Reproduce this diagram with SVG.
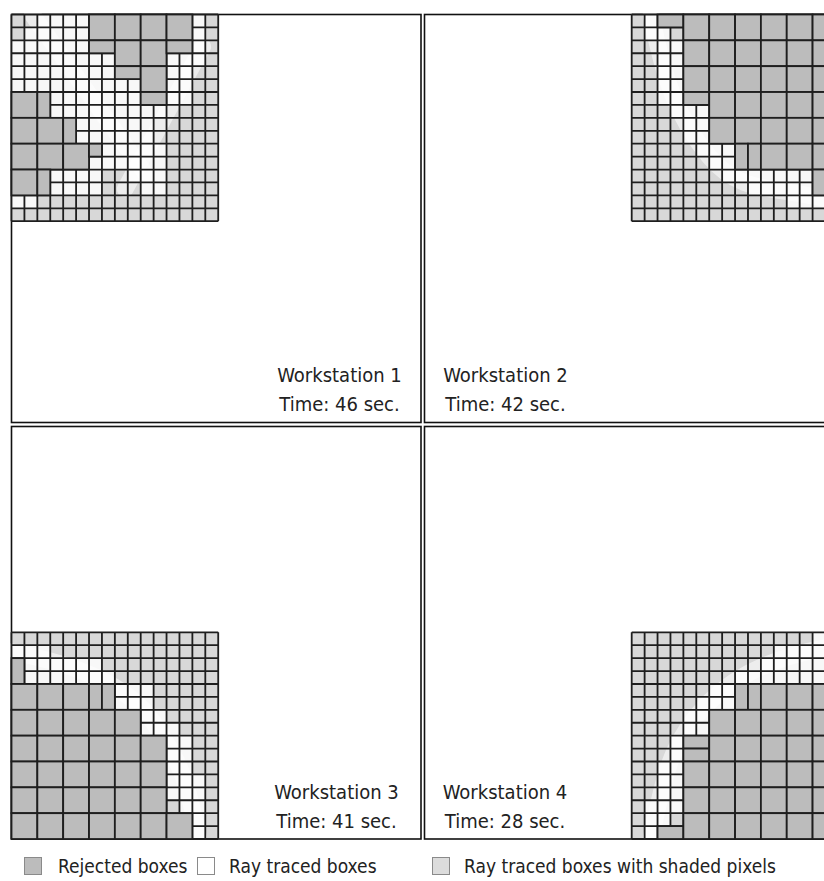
<svg xmlns="http://www.w3.org/2000/svg" xmlns:xlink="http://www.w3.org/1999/xlink" width="824" height="881" viewBox="0 0 824 881">
<style>
.base{fill:#d8d8d8}
.w{fill:#f8f8f8}
.g{fill:#bcbcbc;stroke:#1e1e1e;stroke-width:.14}
.ln{fill:none;stroke:#1e1e1e;stroke-width:.14}
.band{fill:none;stroke:#ffffff;stroke-opacity:.55;stroke-width:1.3;stroke-linecap:round}
.frame{fill:none;stroke:#111;stroke-width:1.6}
.lbl{font-family:"DejaVu Sans Condensed","DejaVu Sans",sans-serif;font-stretch:condensed;font-size:20px;fill:#222;text-anchor:middle}
.leg{font-family:"DejaVu Sans Condensed","DejaVu Sans",sans-serif;font-stretch:condensed;font-size:19px;fill:#222}
.sq{stroke:#8a8a8a;stroke-width:1}
</style>
<defs>
<path id="gl" class="ln" d="M0 0H16M0 1H16M0 2H16M0 3H16M0 4H16M0 5H16M0 6H16M0 7H16M0 8H16M0 9H16M0 10H16M0 11H16M0 12H16M0 13H16M0 14H16M0 15H16M0 16H16M0 0V16M1 0V16M2 0V16M3 0V16M4 0V16M5 0V16M6 0V16M7 0V16M8 0V16M9 0V16M10 0V16M11 0V16M12 0V16M13 0V16M14 0V16M15 0V16M16 0V16"/>
</defs>

<g id="panels">
<rect class="frame" x="11.5" y="14.5" width="409.5" height="408"/>
<rect class="frame" x="424.5" y="14.5" width="420" height="408"/>
<rect class="frame" x="11.5" y="426.5" width="409.5" height="412.5"/>
<rect class="frame" x="424.5" y="426.5" width="420" height="412.5"/>
</g>

<g id="grid1" transform="translate(11.5,14.5) scale(12.92)">
<rect class="base" width="16" height="16"/>
<rect class="w" x="2" y="0" width="4" height="1"/><rect class="w" x="14" y="0" width="1" height="3"/>
<rect class="w" x="1" y="1" width="5" height="1"/>
<rect class="w" x="0" y="2" width="6" height="1"/>
<rect class="w" x="0" y="3" width="8" height="2"/><rect class="w" x="12" y="3" width="3" height="1"/>
<rect class="w" x="12" y="4" width="2" height="3"/>
<rect class="w" x="0" y="5" width="10" height="1"/>
<rect class="w" x="3" y="6" width="7" height="1"/>
<rect class="w" x="3" y="7" width="9" height="1"/>
<rect class="w" x="5" y="8" width="6" height="2"/>
<rect class="w" x="7" y="10" width="5" height="1"/>
<rect class="w" x="6" y="11" width="6" height="1"/>
<rect class="w" x="3" y="12" width="4" height="2"/><rect class="w" x="9" y="12" width="3" height="1"/>
<rect class="w" x="10" y="13" width="2" height="1"/>
<rect class="w" x="0" y="14" width="2" height="1"/>
<path class="band" d="M1.6 0 L10.5 12.5"/>
<path class="band" d="M14.8 2.5 L8.8 13.5"/>
<use xlink:href="#gl" href="#gl"/>
<rect class="g" x="6" y="0" width="2" height="2"/><rect class="g" x="8" y="0" width="2" height="2"/>
<rect class="g" x="10" y="0" width="2" height="2"/><rect class="g" x="12" y="0" width="2" height="2"/>
<rect class="g" x="6" y="2" width="2" height="1"/><rect class="g" x="8" y="2" width="2" height="2"/>
<rect class="g" x="10" y="2" width="2" height="2"/><rect class="g" x="12" y="2" width="2" height="1"/>
<rect class="g" x="8" y="4" width="2" height="1"/><rect class="g" x="10" y="4" width="2" height="2"/>
<rect class="g" x="10" y="6" width="2" height="1"/>
<rect class="g" x="0" y="6" width="2" height="2"/><rect class="g" x="2" y="6" width="1" height="2"/>
<rect class="g" x="0" y="8" width="2" height="2"/><rect class="g" x="2" y="8" width="2" height="2"/><rect class="g" x="4" y="8" width="1" height="2"/>
<rect class="g" x="0" y="10" width="2" height="2"/><rect class="g" x="2" y="10" width="2" height="2"/><rect class="g" x="4" y="10" width="2" height="2"/><rect class="g" x="6" y="10" width="1" height="1"/>
<rect class="g" x="0" y="12" width="2" height="2"/><rect class="g" x="2" y="12" width="1" height="2"/>
</g>

<g id="grid2" transform="translate(631.7,14.5) scale(12.92)">
<rect class="base" width="16" height="16"/>
<rect class="w" x="1" y="0" width="1" height="1"/>
<rect class="w" x="1" y="1" width="2" height="1"/>
<rect class="w" x="2" y="2" width="2" height="5"/>
<rect class="w" x="3" y="7" width="3" height="1"/>
<rect class="w" x="4" y="8" width="2" height="2"/>
<rect class="w" x="5" y="10" width="3" height="1"/>
<rect class="w" x="6" y="11" width="2" height="1"/>
<rect class="w" x="7" y="12" width="7" height="1"/>
<rect class="w" x="9" y="13" width="5" height="1"/>
<rect class="w" x="12" y="14" width="3" height="1"/>
<path class="band" d="M1.5 0 C2.5 5 3.5 8 6 11 S11 13.2 16 14.5"/>
<use xlink:href="#gl" href="#gl"/>
<rect class="g" x="2" y="0" width="2" height="1"/>
<rect class="g" x="4" y="0" width="2" height="2"/><rect class="g" x="6" y="0" width="2" height="2"/><rect class="g" x="8" y="0" width="2" height="2"/><rect class="g" x="10" y="0" width="2" height="2"/><rect class="g" x="12" y="0" width="2" height="2"/><rect class="g" x="14" y="0" width="2" height="2"/>
<rect class="g" x="4" y="2" width="2" height="2"/><rect class="g" x="6" y="2" width="2" height="2"/><rect class="g" x="8" y="2" width="2" height="2"/><rect class="g" x="10" y="2" width="2" height="2"/><rect class="g" x="12" y="2" width="2" height="2"/><rect class="g" x="14" y="2" width="2" height="2"/>
<rect class="g" x="4" y="4" width="2" height="2"/><rect class="g" x="6" y="4" width="2" height="2"/><rect class="g" x="8" y="4" width="2" height="2"/><rect class="g" x="10" y="4" width="2" height="2"/><rect class="g" x="12" y="4" width="2" height="2"/><rect class="g" x="14" y="4" width="2" height="2"/>
<rect class="g" x="4" y="6" width="2" height="1"/>
<rect class="g" x="6" y="6" width="2" height="2"/><rect class="g" x="8" y="6" width="2" height="2"/><rect class="g" x="10" y="6" width="2" height="2"/><rect class="g" x="12" y="6" width="2" height="2"/><rect class="g" x="14" y="6" width="2" height="2"/>
<rect class="g" x="6" y="8" width="2" height="2"/><rect class="g" x="8" y="8" width="2" height="2"/><rect class="g" x="10" y="8" width="2" height="2"/><rect class="g" x="12" y="8" width="2" height="2"/><rect class="g" x="14" y="8" width="2" height="2"/>
<rect class="g" x="8" y="10" width="1" height="2"/><rect class="g" x="9" y="10" width="1" height="2"/><rect class="g" x="10" y="10" width="2" height="2"/><rect class="g" x="12" y="10" width="2" height="2"/><rect class="g" x="14" y="10" width="2" height="2"/>
<rect class="g" x="14" y="12" width="2" height="2"/>
</g>

<g id="grid3" transform="translate(11.5,632.3) scale(12.92)">
<rect class="base" width="16" height="16"/>
<rect class="w" x="0" y="1" width="3" height="1"/>
<rect class="w" x="1" y="2" width="6" height="1"/>
<rect class="w" x="1" y="3" width="7" height="1"/>
<rect class="w" x="8" y="4" width="3" height="2"/>
<rect class="w" x="10" y="6" width="2" height="1"/>
<rect class="w" x="10" y="7" width="3" height="1"/>
<rect class="w" x="12" y="8" width="2" height="3"/>
<rect class="w" x="12" y="11" width="3" height="2"/>
<rect class="w" x="13" y="13" width="2" height="1"/>
<rect class="w" x="14" y="14" width="1" height="2"/>
<path class="band" d="M0 1.5 C5 2.5 9 4 11 7 S13.5 11 14.5 16"/>
<use xlink:href="#gl" href="#gl"/>
<rect class="g" x="0" y="2" width="1" height="2"/>
<rect class="g" x="0" y="4" width="2" height="2"/><rect class="g" x="2" y="4" width="2" height="2"/><rect class="g" x="4" y="4" width="2" height="2"/><rect class="g" x="6" y="4" width="1" height="2"/><rect class="g" x="7" y="4" width="1" height="2"/>
<rect class="g" x="0" y="6" width="2" height="2"/><rect class="g" x="2" y="6" width="2" height="2"/><rect class="g" x="4" y="6" width="2" height="2"/><rect class="g" x="6" y="6" width="2" height="2"/><rect class="g" x="8" y="6" width="2" height="2"/>
<rect class="g" x="0" y="8" width="2" height="2"/><rect class="g" x="2" y="8" width="2" height="2"/><rect class="g" x="4" y="8" width="2" height="2"/><rect class="g" x="6" y="8" width="2" height="2"/><rect class="g" x="8" y="8" width="2" height="2"/><rect class="g" x="10" y="8" width="2" height="2"/>
<rect class="g" x="0" y="10" width="2" height="2"/><rect class="g" x="2" y="10" width="2" height="2"/><rect class="g" x="4" y="10" width="2" height="2"/><rect class="g" x="6" y="10" width="2" height="2"/><rect class="g" x="8" y="10" width="2" height="2"/><rect class="g" x="10" y="10" width="2" height="2"/>
<rect class="g" x="0" y="12" width="2" height="2"/><rect class="g" x="2" y="12" width="2" height="2"/><rect class="g" x="4" y="12" width="2" height="2"/><rect class="g" x="6" y="12" width="2" height="2"/><rect class="g" x="8" y="12" width="2" height="2"/><rect class="g" x="10" y="12" width="2" height="2"/>
<rect class="g" x="0" y="14" width="2" height="2"/><rect class="g" x="2" y="14" width="2" height="2"/><rect class="g" x="4" y="14" width="2" height="2"/><rect class="g" x="6" y="14" width="2" height="2"/><rect class="g" x="8" y="14" width="2" height="2"/><rect class="g" x="10" y="14" width="2" height="2"/><rect class="g" x="12" y="14" width="2" height="2"/>
</g>

<g id="grid4" transform="translate(631.7,632.3) scale(12.92)">
<rect class="base" width="16" height="16"/>
<rect class="w" x="14" y="0" width="2" height="1"/>
<rect class="w" x="11" y="1" width="4" height="1"/>
<rect class="w" x="10" y="2" width="6" height="1"/>
<rect class="w" x="8" y="3" width="8" height="1"/>
<rect class="w" x="6" y="4" width="2" height="1"/>
<rect class="w" x="5" y="5" width="3" height="1"/>
<rect class="w" x="4" y="6" width="2" height="2"/>
<rect class="w" x="3" y="8" width="1" height="2"/>
<rect class="w" x="2" y="10" width="2" height="3"/>
<rect class="w" x="1" y="13" width="3" height="1"/>
<rect class="w" x="1" y="14" width="2" height="1"/>
<rect class="w" x="1" y="15" width="1" height="1"/>
<path class="band" d="M16 1 C10 2 7 4 5 6.5 S2.5 11 1.5 16"/>
<use xlink:href="#gl" href="#gl"/>
<rect class="g" x="8" y="4" width="1" height="2"/><rect class="g" x="9" y="4" width="1" height="2"/><rect class="g" x="10" y="4" width="2" height="2"/><rect class="g" x="12" y="4" width="2" height="2"/><rect class="g" x="14" y="4" width="2" height="2"/>
<rect class="g" x="6" y="6" width="2" height="2"/><rect class="g" x="8" y="6" width="2" height="2"/><rect class="g" x="10" y="6" width="2" height="2"/><rect class="g" x="12" y="6" width="2" height="2"/><rect class="g" x="14" y="6" width="2" height="2"/>
<rect class="g" x="4" y="8" width="2" height="1"/><rect class="g" x="4" y="9" width="2" height="1"/>
<rect class="g" x="6" y="8" width="2" height="2"/><rect class="g" x="8" y="8" width="2" height="2"/><rect class="g" x="10" y="8" width="2" height="2"/><rect class="g" x="12" y="8" width="2" height="2"/><rect class="g" x="14" y="8" width="2" height="2"/>
<rect class="g" x="4" y="10" width="2" height="2"/><rect class="g" x="6" y="10" width="2" height="2"/><rect class="g" x="8" y="10" width="2" height="2"/><rect class="g" x="10" y="10" width="2" height="2"/><rect class="g" x="12" y="10" width="2" height="2"/><rect class="g" x="14" y="10" width="2" height="2"/>
<rect class="g" x="4" y="12" width="2" height="2"/><rect class="g" x="6" y="12" width="2" height="2"/><rect class="g" x="8" y="12" width="2" height="2"/><rect class="g" x="10" y="12" width="2" height="2"/><rect class="g" x="12" y="12" width="2" height="2"/><rect class="g" x="14" y="12" width="2" height="2"/>
<rect class="g" x="2" y="15" width="2" height="1"/>
<rect class="g" x="4" y="14" width="2" height="2"/><rect class="g" x="6" y="14" width="2" height="2"/><rect class="g" x="8" y="14" width="2" height="2"/><rect class="g" x="10" y="14" width="2" height="2"/><rect class="g" x="12" y="14" width="2" height="2"/><rect class="g" x="14" y="14" width="2" height="2"/>
</g>

<g id="labels">
<text class="lbl" x="339.5" y="382">Workstation 1</text>
<text class="lbl" x="339.5" y="411">Time: 46 sec.</text>
<text class="lbl" x="505.5" y="382">Workstation 2</text>
<text class="lbl" x="505.5" y="411">Time: 42 sec.</text>
<text class="lbl" x="336.5" y="799">Workstation 3</text>
<text class="lbl" x="336.5" y="828">Time: 41 sec.</text>
<text class="lbl" x="505" y="799">Workstation 4</text>
<text class="lbl" x="505" y="828">Time: 28 sec.</text>
</g>

<g id="legend">
<rect class="sq" x="24.5" y="857.5" width="17" height="17" fill="#bcbcbc"/>
<text class="leg" x="58" y="873">Rejected boxes</text>
<rect class="sq" x="197.5" y="857.5" width="17" height="17" fill="#ffffff"/>
<text class="leg" x="229" y="873">Ray traced boxes</text>
<rect class="sq" x="432.5" y="857.5" width="17" height="17" fill="#dcdcdc"/>
<text class="leg" x="464" y="873">Ray traced boxes with shaded pixels</text>
</g>
</svg>
